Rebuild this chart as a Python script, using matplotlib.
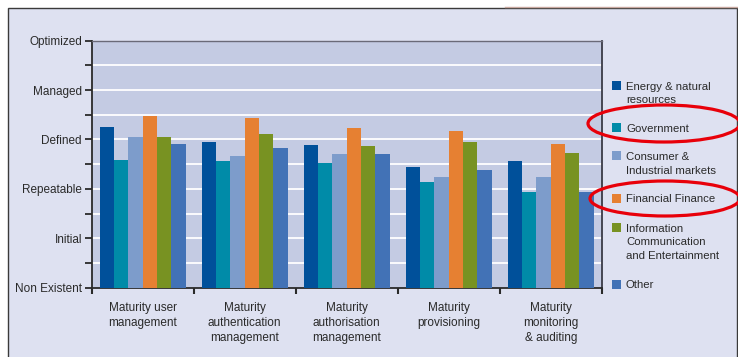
import matplotlib
matplotlib.use("Agg")
import matplotlib.pyplot as plt
from matplotlib.patches import Rectangle, Ellipse

plt.rcParams['font.family'] = ['Liberation Sans Narrow', 'Liberation Sans', 'DejaVu Sans']

groups = ["Maturity user\nmanagement",
          "Maturity\nauthentication\nmanagement",
          "Maturity\nauthorisation\nmanagement",
          "Maturity\nprovisioning",
          "Maturity\nmonitoring\n& auditing"]
levels = ["Non Existent", "Initial", "Repeatable", "Defined", "Managed", "Optimized"]

series = ["Energy & natural\nresources",
          "Government",
          "Consumer &\nIndustrial markets",
          "Financial Finance",
          "Information\nCommunication\nand Entertainment",
          "Other"]
colors = ["#00509a", "#008ba8", "#7d9ccb", "#e68032", "#789222", "#4272b6"]

energy = [3.25, 2.94, 2.89, 2.44, 2.56]
government = [2.58, 2.56, 2.52, 2.13, 1.94]
consumer = [3.06, 2.66, 2.71, 2.24, 2.24]
financial = [3.47, 3.44, 3.23, 3.18, 2.91]
information = [3.06, 3.11, 2.87, 2.94, 2.73]
other = [2.91, 2.83, 2.71, 2.39, 1.94]
values = [energy, government, consumer, financial, information, other]

W, H = 738, 357
fig = plt.figure(figsize=(W / 100, H / 100), dpi=100)
fig.patch.set_facecolor("white")

# outer frame
fig.patches.append(Rectangle((8 / W, -0.01), 729 / W, (H - 8) / H + 0.01,
                             transform=fig.transFigure, facecolor="#dee1f1",
                             edgecolor="#3a3a3a", linewidth=1.0, zorder=-5))
fig.add_artist(plt.Line2D([505 / W, 1], [(H - 6.5) / H] * 2, color="#c8a8a0",
                          linewidth=1.0, transform=fig.transFigure, zorder=-4))

ax = fig.add_axes([91.7 / W, (H - 287.7) / H, 510 / W, 247 / H])
ax.set_zorder(1)
ax.set_facecolor("#c4cbe3")

w = 86 / 102 / 6
centers = [i + 0.5 for i in range(len(groups))]
for j, vals in enumerate(values):
    xs = [c + (j - 2.5) * w for c in centers]
    ax.bar(xs, vals, width=w, color=colors[j], linewidth=0, zorder=3)

ax.set_xlim(0, 5)
ax.set_ylim(0, 5)

ax.set_yticks(range(6))
ax.set_yticklabels(levels, fontsize=8.5, color="#2a2a2a")
ax.set_yticks([k + 0.5 for k in range(5)], minor=True)
ax.tick_params(axis="y", which="both", length=5, width=1.3, color="#2a2a2a", pad=2)

ax.set_xticks(range(6))
ax.set_xticklabels([])
ax.set_xticks(centers, minor=True)
ax.set_xticklabels(groups, minor=True, fontsize=8.5, color="#2a2a2a", linespacing=1.3)
ax.tick_params(axis="x", which="major", length=4, width=1.5, color="#2a2a2a")
ax.tick_params(axis="x", which="minor", length=0, pad=10.5)

for k in range(1, 10):
    ax.axhline(k * 0.5, color="white", linewidth=1.3, zorder=1)

for s in ["left", "bottom"]:
    ax.spines[s].set_color("#2a2a2a")
    ax.spines[s].set_linewidth(1.3)
ax.spines["right"].set_color("#3a3a46")
ax.spines["right"].set_linewidth(1.3)
ax.spines["top"].set_color("#6a6a78")
ax.spines["top"].set_linewidth(1.0)

# legend drawn by hand
sq_centers = [85.5, 127.5, 156, 198.5, 227.5, 284.5]
for j, name in enumerate(series):
    cy = sq_centers[j]
    fig.patches.append(Rectangle((612 / W, (H - cy - 4.5) / H), 9 / W, 9 / H,
                                 transform=fig.transFigure, facecolor=colors[j],
                                 linewidth=0))
    fig.text(626 / W, (H - cy + 4) / H, name, fontsize=8.2, color="#2a2a2a",
             va="top", ha="left", linespacing=1.45)

# red highlight ellipses
for cx, cy, ew, eh in [(664, 123.5, 152, 37), (665, 198.5, 150, 35)]:
    fig.patches.append(Ellipse((cx / W, (H - cy) / H), ew / W, eh / H,
                               transform=fig.transFigure, fill=False,
                               edgecolor="#e8000a", linewidth=2.3, zorder=5))

fig.savefig("out.png", dpi=100)
